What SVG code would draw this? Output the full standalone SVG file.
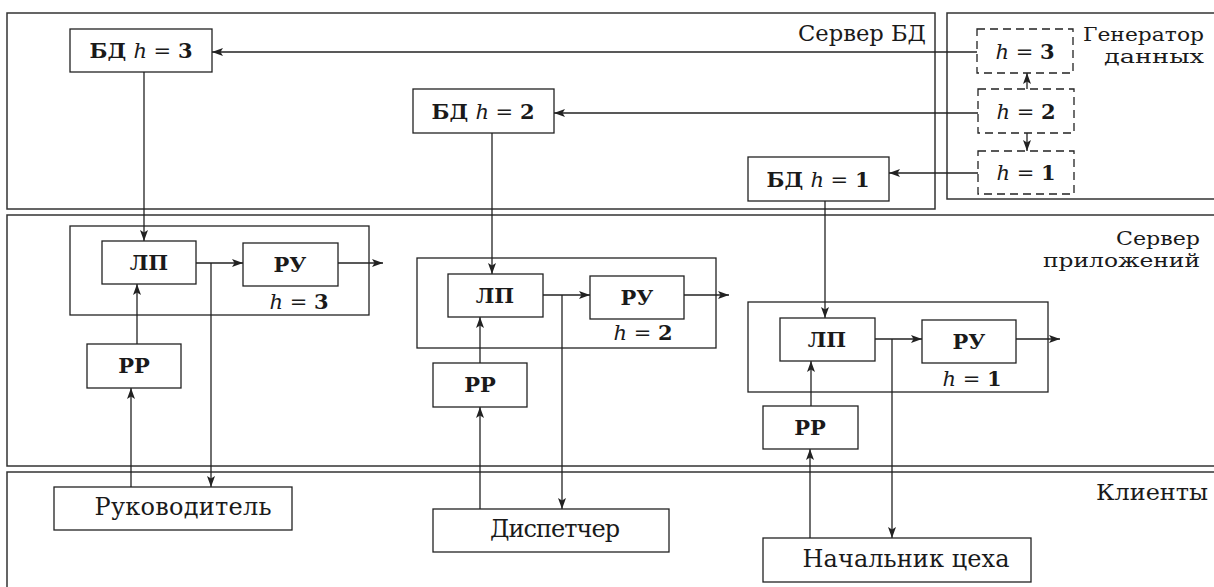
<svg xmlns="http://www.w3.org/2000/svg" width="1214" height="587" viewBox="0 0 1214 587">
<defs>
<marker id="ah" viewBox="0 0 11 8" refX="11" refY="4" markerWidth="11" markerHeight="8" markerUnits="userSpaceOnUse" orient="auto">
<path d="M0,0 L11,4 L0,8 L2.5,4 z" fill="#222"/>
</marker>
<style>
.sec{fill:none;stroke:#333;stroke-width:1.5}
.box{fill:#fff;stroke:#222;stroke-width:1.3}
.grp{fill:none;stroke:#222;stroke-width:1.3}
.dash{fill:#fff;stroke:#222;stroke-width:1.3;stroke-dasharray:8 5}
.ar{fill:none;stroke:#222;stroke-width:1.3;marker-end:url(#ah)}
text{font-family:"DejaVu Serif","Liberation Serif",serif;fill:#1a1a1a}
.lbl{font-size:22px;text-anchor:end}
.lbl2{font-size:19px;text-anchor:end}
.bt{font-size:21px;font-weight:bold;text-anchor:middle}
.nt{font-size:24px;text-anchor:middle}
.hi{font-style:italic;font-weight:normal}
.eq{font-weight:normal}
</style>
</defs>

<g id="section-db-server">
<rect class="sec" x="7" y="13" width="928" height="196"/>
<text class="lbl" x="926" y="41" textLength="128" lengthAdjust="spacingAndGlyphs">Сервер БД</text>
</g>
<g id="section-generator">
<rect class="sec" x="947" y="13" width="280" height="186"/>
<text class="lbl2" x="1204" y="40.5" textLength="121" lengthAdjust="spacingAndGlyphs">Генератор</text>
<text class="lbl2" x="1204" y="63" textLength="100" lengthAdjust="spacingAndGlyphs">данных</text>
</g>
<g id="section-app-server">
<rect class="sec" x="7" y="215" width="1220" height="251"/>
<text class="lbl2" x="1200" y="244.5" textLength="84" lengthAdjust="spacingAndGlyphs">Сервер</text>
<text class="lbl2" x="1200" y="267" textLength="157" lengthAdjust="spacingAndGlyphs">приложений</text>
</g>
<g id="section-clients">
<rect class="sec" x="7" y="472" width="1220" height="130"/>
<text class="lbl" x="1208" y="500" textLength="112" lengthAdjust="spacingAndGlyphs">Клиенты</text>
</g>

<g id="gen-h3"><rect class="dash" x="977" y="29" width="96" height="44"/><text class="bt" x="1025" y="59"><tspan class="hi">h</tspan><tspan class="eq"> = </tspan>3</text></g>
<g id="gen-h2"><rect class="dash" x="978" y="89" width="96" height="44"/><text class="bt" x="1026" y="119"><tspan class="hi">h</tspan><tspan class="eq"> = </tspan>2</text></g>
<g id="gen-h1"><rect class="dash" x="978" y="151" width="96" height="43"/><text class="bt" x="1026" y="180"><tspan class="hi">h</tspan><tspan class="eq"> = </tspan>1</text></g>

<g id="db-h3"><rect class="box" x="70" y="29" width="142" height="43"/><text class="bt" x="141" y="58">БД <tspan class="hi">h</tspan><tspan class="eq"> = </tspan>3</text></g>
<g id="db-h2"><rect class="box" x="413" y="89" width="141" height="44"/><text class="bt" x="483" y="119">БД <tspan class="hi">h</tspan><tspan class="eq"> = </tspan>2</text></g>
<g id="db-h1"><rect class="box" x="748" y="157" width="141" height="44"/><text class="bt" x="818" y="187">БД <tspan class="hi">h</tspan><tspan class="eq"> = </tspan>1</text></g>

<g id="grp-h3">
<rect class="grp" x="70" y="226" width="299" height="89"/>
<text class="bt" x="299" y="309"><tspan class="hi">h</tspan><tspan class="eq"> = </tspan>3</text>
</g>
<g id="lp-h3"><rect class="box" x="102" y="241" width="94" height="43"/><text class="bt" x="149" y="270">ЛП</text></g>
<g id="ru-h3"><rect class="box" x="243" y="243" width="95" height="43"/><text class="bt" x="290" y="272">РУ</text></g>
<g id="rr-h3"><rect class="box" x="87" y="344" width="94" height="44"/><text class="bt" x="134" y="373">РР</text></g>

<g id="grp-h2">
<rect class="grp" x="417" y="258" width="299" height="90"/>
<text class="bt" x="643" y="340"><tspan class="hi">h</tspan><tspan class="eq"> = </tspan>2</text>
</g>
<g id="lp-h2"><rect class="box" x="448" y="274" width="95" height="43"/><text class="bt" x="495" y="303">ЛП</text></g>
<g id="ru-h2"><rect class="box" x="590" y="276" width="94" height="43"/><text class="bt" x="637" y="305">РУ</text></g>
<g id="rr-h2"><rect class="box" x="433" y="363" width="94" height="44"/><text class="bt" x="480" y="392">РР</text></g>

<g id="grp-h1">
<rect class="grp" x="748" y="302" width="300" height="90"/>
<text class="bt" x="972" y="386"><tspan class="hi">h</tspan><tspan class="eq"> = </tspan>1</text>
</g>
<g id="lp-h1"><rect class="box" x="780" y="318" width="95" height="43"/><text class="bt" x="827" y="347">ЛП</text></g>
<g id="ru-h1"><rect class="box" x="922" y="320" width="94" height="43"/><text class="bt" x="969" y="349">РУ</text></g>
<g id="rr-h1"><rect class="box" x="763" y="406" width="95" height="43"/><text class="bt" x="810" y="435">РР</text></g>

<g id="client-manager"><rect class="box" x="54" y="487" width="238" height="43"/><text class="nt" x="183" y="515" textLength="177">Руководитель</text></g>
<g id="client-dispatcher"><rect class="box" x="433" y="509" width="236" height="43"/><text class="nt" x="555" y="537" textLength="130">Диспетчер</text></g>
<g id="client-shop"><rect class="box" x="763" y="538" width="268" height="44"/><text class="nt" x="906" y="567" textLength="207">Начальник цеха</text></g>

<g id="connectors">
<path class="ar" d="M977,52 H212"/>
<path class="ar" d="M978,113 H554"/>
<path class="ar" d="M978,173 H889"/>
<path class="ar" d="M1027,89 V73"/>
<path class="ar" d="M1027,133 V151"/>
<path class="ar" d="M144,72 V241"/>
<path class="ar" d="M492,133 V274"/>
<path class="ar" d="M825,201 V318"/>
<path class="ar" d="M196,263 H243"/>
<path class="ar" d="M338,263 H383"/>
<path class="ar" d="M211,263 V487"/>
<path class="ar" d="M137,344 V284"/>
<path class="ar" d="M131,487 V388"/>
<path class="ar" d="M543,295 H590"/>
<path class="ar" d="M684,295 H729"/>
<path class="ar" d="M562,295 V509"/>
<path class="ar" d="M480,363 V317"/>
<path class="ar" d="M480,509 V407"/>
<path class="ar" d="M875,339 H922"/>
<path class="ar" d="M1016,339 H1060"/>
<path class="ar" d="M892,339 V538"/>
<path class="ar" d="M811,406 V361"/>
<path class="ar" d="M810,538 V449"/>
</g>
</svg>
